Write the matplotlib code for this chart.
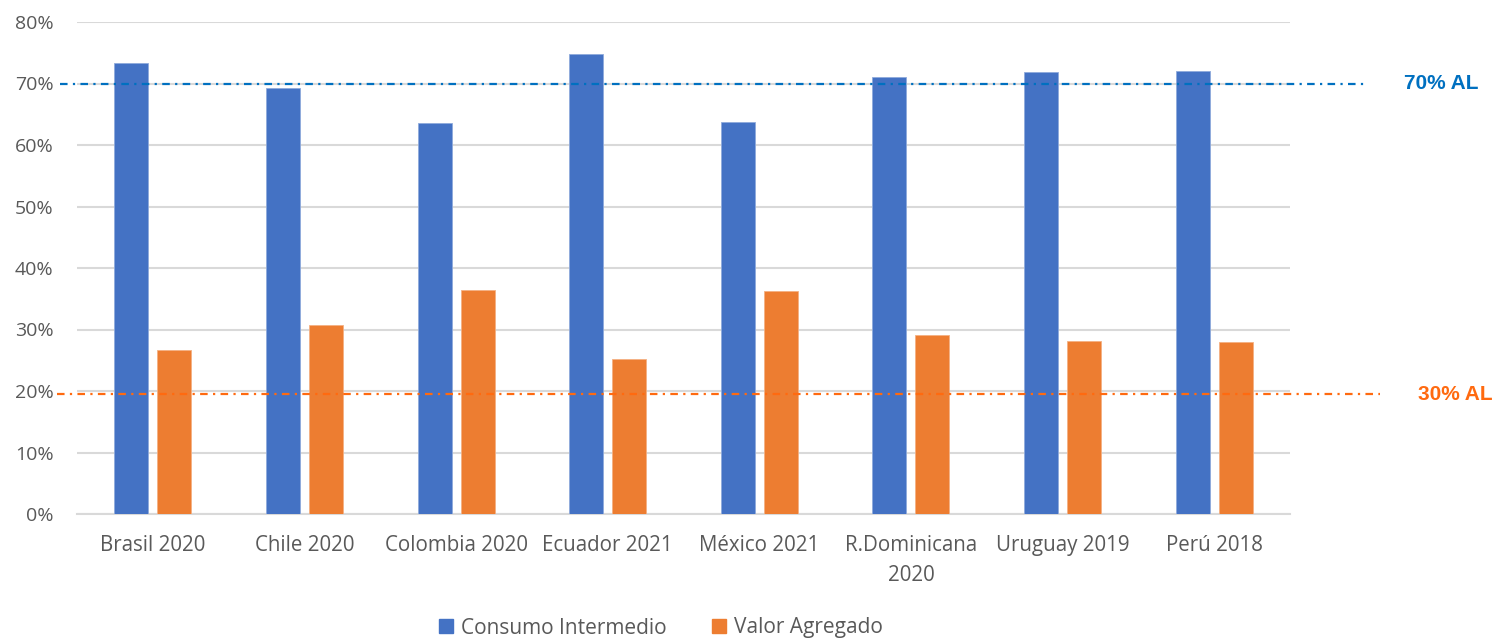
import numpy as np
import matplotlib
matplotlib.use("Agg")
import matplotlib.pyplot as plt
from matplotlib.patches import Patch

# data
categories = ["Brasil 2020", "Chile 2020", "Colombia 2020", "Ecuador 2021",
              "México 2021", "R.Dominicana\n2020", "Uruguay 2019", "Perú 2018"]
consumo = [73.3, 69.3, 63.6, 74.8, 63.7, 71.0, 71.9, 72.0]
valor = [26.6, 30.7, 36.4, 25.2, 36.3, 29.1, 28.1, 27.9]
ref_ci = 70.0
ref_va = 19.5
ref_labels = ["70% AL", "30% AL"]

BLUE = "#4472C4"
ORANGE = "#ED7D31"
GREY_TXT = "#595959"
GRID = "#D9D9D9"

plt.rcParams['font.family'] = ['Open Sans', 'DejaVu Sans']

fig = plt.figure(figsize=(14.95, 6.39), dpi=100)
ax = fig.add_axes([77 / 1495, 125 / 639, (1290 - 77) / 1495, 492 / 639])

x = np.arange(len(categories))
w = 0.224
off = 0.142
ax.bar(x - off, consumo, w, color=BLUE, edgecolor="#8FAADC", linewidth=0.6, zorder=3)
ax.bar(x + off, valor, w, color=ORANGE, edgecolor="#F4B183", linewidth=0.6, zorder=3)

ax.set_xlim(-0.5, len(categories) - 0.5)
ax.set_ylim(0, 80)
ax.set_yticks(np.arange(0, 81, 10))
ax.set_yticklabels([f"{v}%" for v in range(0, 81, 10)])
ax.set_xticks(x)
ax.set_xticklabels(categories, linespacing=1.6)
ax.tick_params(axis="y", length=0, pad=17, labelsize=14, labelcolor=GREY_TXT)
ax.tick_params(axis="x", length=0, pad=15, labelsize=14.8, labelcolor=GREY_TXT)

ax.yaxis.grid(True, color=GRID, linewidth=1.5, zorder=0)
for s in ["top", "right", "left"]:
    ax.spines[s].set_visible(False)
ax.spines["bottom"].set_color(GRID)
ax.spines["bottom"].set_linewidth(1.5)

# reference lines (extend beyond the plot area)
trans = ax.get_yaxis_transform()
dd = (3.4, 2.4, 1.0, 2.4)
ax.plot([(60 - 77) / 1213, (1365 - 77) / 1213], [ref_ci, ref_ci], transform=trans,
        color="#0070C0", linewidth=1.6, dashes=dd, clip_on=False, zorder=4)
ax.plot([(57 - 77) / 1213, (1380 - 77) / 1213], [ref_va, ref_va], transform=trans,
        color="#FF6A10", linewidth=1.6, dashes=dd, clip_on=False, zorder=4)
ax.text((1441 - 77) / 1213, ref_ci, ref_labels[0], transform=trans,
        ha="center", va="center", color="#0070C0", fontsize=15,
        fontweight="bold", family="Liberation Sans")
ax.text((1455 - 77) / 1213, ref_va, ref_labels[1], transform=trans,
        ha="center", va="center", color="#FF6A10", fontsize=15,
        fontweight="bold", family="Liberation Sans")

handles = [Patch(color=BLUE), Patch(color=ORANGE)]
fig.legend(handles, ["Consumo Intermedio", "Valor Agregado"], loc="center",
           bbox_to_anchor=(661 / 1495, 11 / 639), ncol=2, frameon=False,
           fontsize=15, labelcolor=GREY_TXT, handlelength=0.65, handleheight=0.65,
           handletextpad=0.4, columnspacing=2.2)

fig.savefig("out.png", dpi=100)
